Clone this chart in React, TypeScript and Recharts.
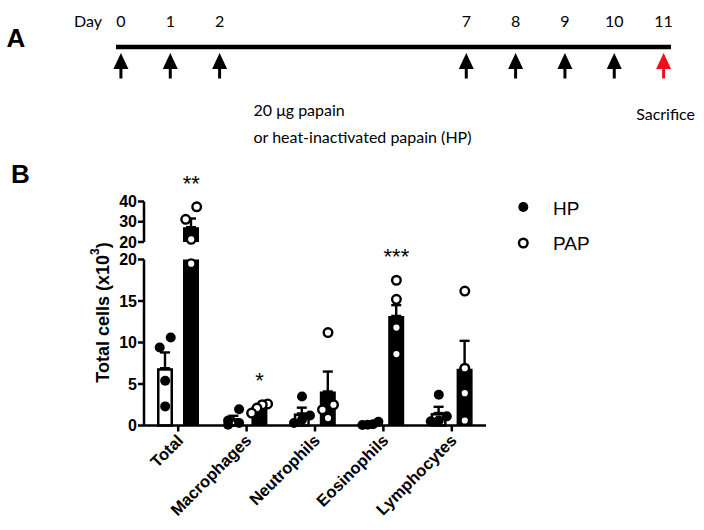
import React from 'react';
import { ScatterChart, Scatter, ComposedChart, Bar, ErrorBar, XAxis, YAxis } from 'recharts';

// A: dosing schedule
const scheduleDays = [0, 1, 2, 7, 8, 9, 10, 11];
const scheduleEvents = ['dose', 'dose', 'dose', 'dose', 'dose', 'dose', 'dose', 'sacrifice'];

// B: BAL cell counts (x10^3), mean + SEM and individual mice
const cellTypes = ['Total', 'Macrophages', 'Neutrophils', 'Eosinophils', 'Lymphocytes'];
const hpMean = [6.9, 0.75, 1.45, 0.15, 1.5];
const hpSem = [1.9, 0.42, 0.7, 0.1, 0.75];
const papMean = [27.3, 2.2, 4.1, 13.2, 6.85];
const papSem = [4.3, 0.25, 2.4, 1.3, 3.35];
const hpPoints = [
  [10.6, 9.4, 5.4, 2.3],
  [1.95, 0.6, 0.3, 0.1],
  [3.5, 1.2, 0.7, 0.3],
  [0.05, 0.1, 0.15, 0.45],
  [3.7, 1.1, 0.6, 0.5],
];
const papPoints = [
  [37.4, 31.2, 21.3, 19.5],
  [2.6, 2.5, 2.1, 1.5],
  [11.2, 2.5, 1.9, 0.9],
  [17.5, 15.2, 11.8, 8.6],
  [16.2, 6.9, 3.9, 0.6],
];
const significance = ['**', '*', '', '***', ''];
const lowerTicks = [0, 5, 10, 15, 20];
const upperTicks = [20, 30, 40];

const W = 704;
const ARIAL = '"Liberation Sans", Arial, sans-serif';
const CALIBRI = 'Lato, "Open Sans", sans-serif';

// broken y axis: two stacked charts sharing the x geometry
const BREAK = 20;
const TOP_MAX = 40;
const PLOT_L = 144;
const PLOT_R = 486;
const Y_AXIS_W = 60;
const UP = { top: 201.5, bottom: 242 };
const LO = { top: 259.5, bottom: 425.5 };
const UP_CHART_TOP = 168;
const UP_CHART_H = 84;
const LO_CHART_TOP = 240;
const LO_CHART_H = 290;
const BAR_SIZE = 16;
const BAR_GAP = 10;
const BAND = (PLOT_R - PLOT_L) / cellTypes.length;
const SHIFT = (BAR_SIZE + BAR_GAP) / 2 / BAND;

function pixelY(v: number) {
  return v >= BREAK
    ? UP.bottom - ((v - BREAK) / (TOP_MAX - BREAK)) * (UP.bottom - UP.top)
    : LO.bottom - (v / BREAK) * (LO.bottom - LO.top);
}

// dots that sit close in y share a row and get spread sideways (prism style)
function swarm(values: number[]) {
  const order = values.map((_, i) => i).sort((a, b) => values[b] - values[a]);
  const dx = values.map(() => 0);
  let row: number[] = [];
  const flush = () => {
    const r = [...row].sort((a, b) => values[a] - values[b]);
    const gap = r.length > 1 ? Math.min(11, 16 / (r.length - 1)) : 0;
    r.forEach((idx, k) => {
      dx[idx] = (k - (r.length - 1) / 2) * gap;
    });
    row = [];
  };
  order.forEach((idx) => {
    if (row.length && Math.abs(pixelY(values[idx]) - pixelY(values[row[0]])) >= 13) flush();
    row.push(idx);
  });
  flush();
  return dx;
}

const dots = (series: number[][], side: number) =>
  series.flatMap((vals, i) => {
    const dx = swarm(vals);
    return vals.map((v, k) => ({ x: i + side * SHIFT + dx[k] / BAND, y: v }));
  });
const hpDots = dots(hpPoints, -1);
const papDots = dots(papPoints, 1);
const stars = cellTypes
  .map((_, i) => ({ x: i + SHIFT, y: Math.max(...papPoints[i]), mark: significance[i] }))
  .filter((d) => d.mark);

const lowerRows = cellTypes.map((name, i) => ({
  name,
  hp: Math.min(hpMean[i], BREAK),
  pap: Math.min(papMean[i], BREAK),
  hpErr: hpMean[i] + hpSem[i] <= BREAK ? [0, hpSem[i]] : null,
  papErr: papMean[i] + papSem[i] <= BREAK ? [0, papSem[i]] : null,
}));
const upperRows = cellTypes.map((name, i) => ({
  name,
  hp: Math.max(hpMean[i], BREAK),
  pap: Math.max(papMean[i], BREAK),
  hpErr: hpMean[i] >= BREAK ? [0, hpSem[i]] : null,
  papErr: papMean[i] >= BREAK ? [0, papSem[i]] : null,
}));

const scheduleRows = scheduleDays.map((day, i) => ({ day, at: 1, event: scheduleEvents[i] }));

const DayTick = (p: any) => (
  <text x={p.x} y={p.y - 12.5} textAnchor="middle" fontFamily={CALIBRI} fontSize={16} fill="#000">
    {p.payload.value}
  </text>
);

const Arrow = (p: any) => {
  const { cx, cy, payload } = p;
  const sac = payload.event === 'sacrifice';
  const c = sac ? '#e8141c' : '#000';
  const tip = cy + 6;
  return (
    <g>
      <rect x={cx - 1.5} y={tip + 12} width={3} height={13.5} fill={c} />
      <polygon points={`${cx},${tip} ${cx - 7.5},${tip + 16} ${cx + 7.5},${tip + 16}`} fill={c} />
      {sac && (
        <text x={cx + 2} y={tip + 67} textAnchor="middle" fontFamily={CALIBRI} fontSize={16} fill="#000">
          Sacrifice
        </text>
      )}
    </g>
  );
};

const OpenBar = (p: any) => {
  const { x, y, width, height } = p;
  if (!height || height < 0.5) return <g />;
  const s = 2.5;
  return <rect x={x + s / 2} y={y + s / 2} width={width - s} height={height - s / 2} fill="#fff" stroke="#000" strokeWidth={s} />;
};

const HpDot = (p: any) => <circle cx={p.cx} cy={p.cy} r={5} fill="#000" />;
const PapDot = (p: any) => <circle cx={p.cx} cy={p.cy} r={4.3} fill="#fff" stroke="#000" strokeWidth={2.4} />;
const Star = (p: any) => (
  <text x={p.cx} y={p.cy - 16} textAnchor="middle" fontFamily={ARIAL} fontSize={22} fill="#000">
    {p.payload.mark}
  </text>
);

const CellTick = (p: any) => {
  const ax = p.x + 6;
  const ay = p.y + 8;
  return (
    <text x={ax} y={ay} transform={`rotate(-45, ${ax}, ${ay})`} textAnchor="end" fontFamily={ARIAL} fontWeight={700} fontSize={16.5} fill="#000">
      {p.payload.value}
    </text>
  );
};

const YLabel = (p: any) => {
  const vb = p.viewBox;
  const cx = vb.x + 19;
  const cy = vb.y + vb.height / 2 - 30;
  return (
    <text x={cx} y={cy} transform={`rotate(-90, ${cx}, ${cy})`} textAnchor="middle" dominantBaseline="central" fontFamily={ARIAL} fontWeight={700} fontSize={18} fill="#000">
      Total cells (x10<tspan fontSize={12} dy={-8}>3</tspan>
      <tspan dy={8}>)</tspan>
    </text>
  );
};

const axisStroke = { stroke: '#000', strokeWidth: 2.5 };
const yTick = { fill: '#000', fontSize: 16, fontWeight: 700, fontFamily: ARIAL };

function Segment({ rows, domain, ticks, top, height, plot, inSegment, showX }: any) {
  const hp = hpDots.filter(inSegment);
  const pap = papDots.filter(inSegment);
  const sig = stars.filter(inSegment);
  return (
    <ComposedChart
      width={W}
      height={height}
      data={rows}
      barSize={BAR_SIZE}
      barGap={BAR_GAP}
      margin={{ top: plot.top - top, right: W - PLOT_R, bottom: showX ? 0 : height - (plot.bottom - top), left: PLOT_L - Y_AXIS_W }}
    >
      <XAxis
        xAxisId="cat"
        dataKey="name"
        hide={!showX}
        height={top + height - plot.bottom}
        interval={0}
        axisLine={axisStroke}
        tickLine={axisStroke}
        tickSize={6}
        tick={CellTick}
      />
      <XAxis xAxisId="pts" type="number" dataKey="x" domain={[-0.5, cellTypes.length - 0.5]} hide />
      <YAxis
        type="number"
        domain={domain}
        ticks={ticks}
        interval={0}
        width={Y_AXIS_W}
        axisLine={axisStroke}
        tickLine={axisStroke}
        tickSize={6}
        tickMargin={1}
        tick={yTick}
        label={showX ? YLabel : undefined}
      />
      <Bar xAxisId="cat" dataKey="hp" shape={OpenBar} isAnimationActive={false}>
        <ErrorBar dataKey="hpErr" width={5} stroke="#000" strokeWidth={2.4} direction="y" />
      </Bar>
      <Bar xAxisId="cat" dataKey="pap" fill="#000" isAnimationActive={false}>
        <ErrorBar dataKey="papErr" width={5} stroke="#000" strokeWidth={2.4} direction="y" />
      </Bar>
      {hp.length > 0 && <Scatter xAxisId="pts" data={hp} dataKey="y" shape={HpDot} isAnimationActive={false} />}
      {pap.length > 0 && <Scatter xAxisId="pts" data={pap} dataKey="y" shape={PapDot} isAnimationActive={false} />}
      {sig.length > 0 && <Scatter xAxisId="pts" data={sig} dataKey="y" shape={Star} isAnimationActive={false} />}
    </ComposedChart>
  );
}

export default function App() {
  return (
    <div style={{ position: 'absolute', left: 0, top: 0, width: W, height: 530, background: '#fff', overflow: 'hidden' }}>
      <div style={{ position: 'absolute', left: 0, top: 0 }}>
        <ScatterChart width={W} height={150} margin={{ top: 17, right: 33, bottom: 0, left: 116 }}>
          <XAxis
            type="number"
            dataKey="day"
            orientation="top"
            domain={[-0.1, 11.15]}
            ticks={scheduleDays}
            interval={0}
            axisLine={{ stroke: '#000', strokeWidth: 4.5 }}
            tickLine={false}
            tick={DayTick}
          />
          <YAxis type="number" dataKey="at" domain={[0, 1]} hide />
          <Scatter data={scheduleRows} shape={Arrow} isAnimationActive={false} />
        </ScatterChart>
      </div>

      <div style={{ position: 'absolute', left: 0, top: UP_CHART_TOP }}>
        <Segment
          rows={upperRows}
          domain={[BREAK, TOP_MAX]}
          ticks={upperTicks}
          top={UP_CHART_TOP}
          height={UP_CHART_H}
          plot={UP}
          inSegment={(d: any) => d.y >= BREAK}
          showX={false}
        />
      </div>
      <div style={{ position: 'absolute', left: 0, top: LO_CHART_TOP }}>
        <Segment
          rows={lowerRows}
          domain={[0, BREAK]}
          ticks={lowerTicks}
          top={LO_CHART_TOP}
          height={LO_CHART_H}
          plot={LO}
          inSegment={(d: any) => d.y < BREAK}
          showX
        />
      </div>

      <svg width={W} height={530} style={{ position: 'absolute', left: 0, top: 0, pointerEvents: 'none' }}>
        <text x={6.5} y={47} fontFamily={ARIAL} fontWeight={700} fontSize={26} fill="#000">A</text>
        <text x={74} y={26.5} fontFamily={CALIBRI} fontSize={16} fill="#000">Day</text>
        <text x={253.5} y={116} fontFamily={CALIBRI} fontSize={16} fill="#000">20 μg papain</text>
        <text x={253.5} y={142.5} fontFamily={CALIBRI} fontSize={16} fill="#000">or heat-inactivated papain (HP)</text>
        <text x={11} y={183} fontFamily={ARIAL} fontWeight={700} fontSize={26} fill="#000">B</text>
        <circle cx={523.3} cy={207} r={5} fill="#000" />
        <text x={553} y={214.5} fontFamily={ARIAL} fontSize={19} fill="#000">HP</text>
        <circle cx={523.3} cy={243} r={4.3} fill="#fff" stroke="#000" strokeWidth={2.4} />
        <text x={553} y={250} fontFamily={ARIAL} fontSize={19} fill="#000">PAP</text>
      </svg>
    </div>
  );
}
